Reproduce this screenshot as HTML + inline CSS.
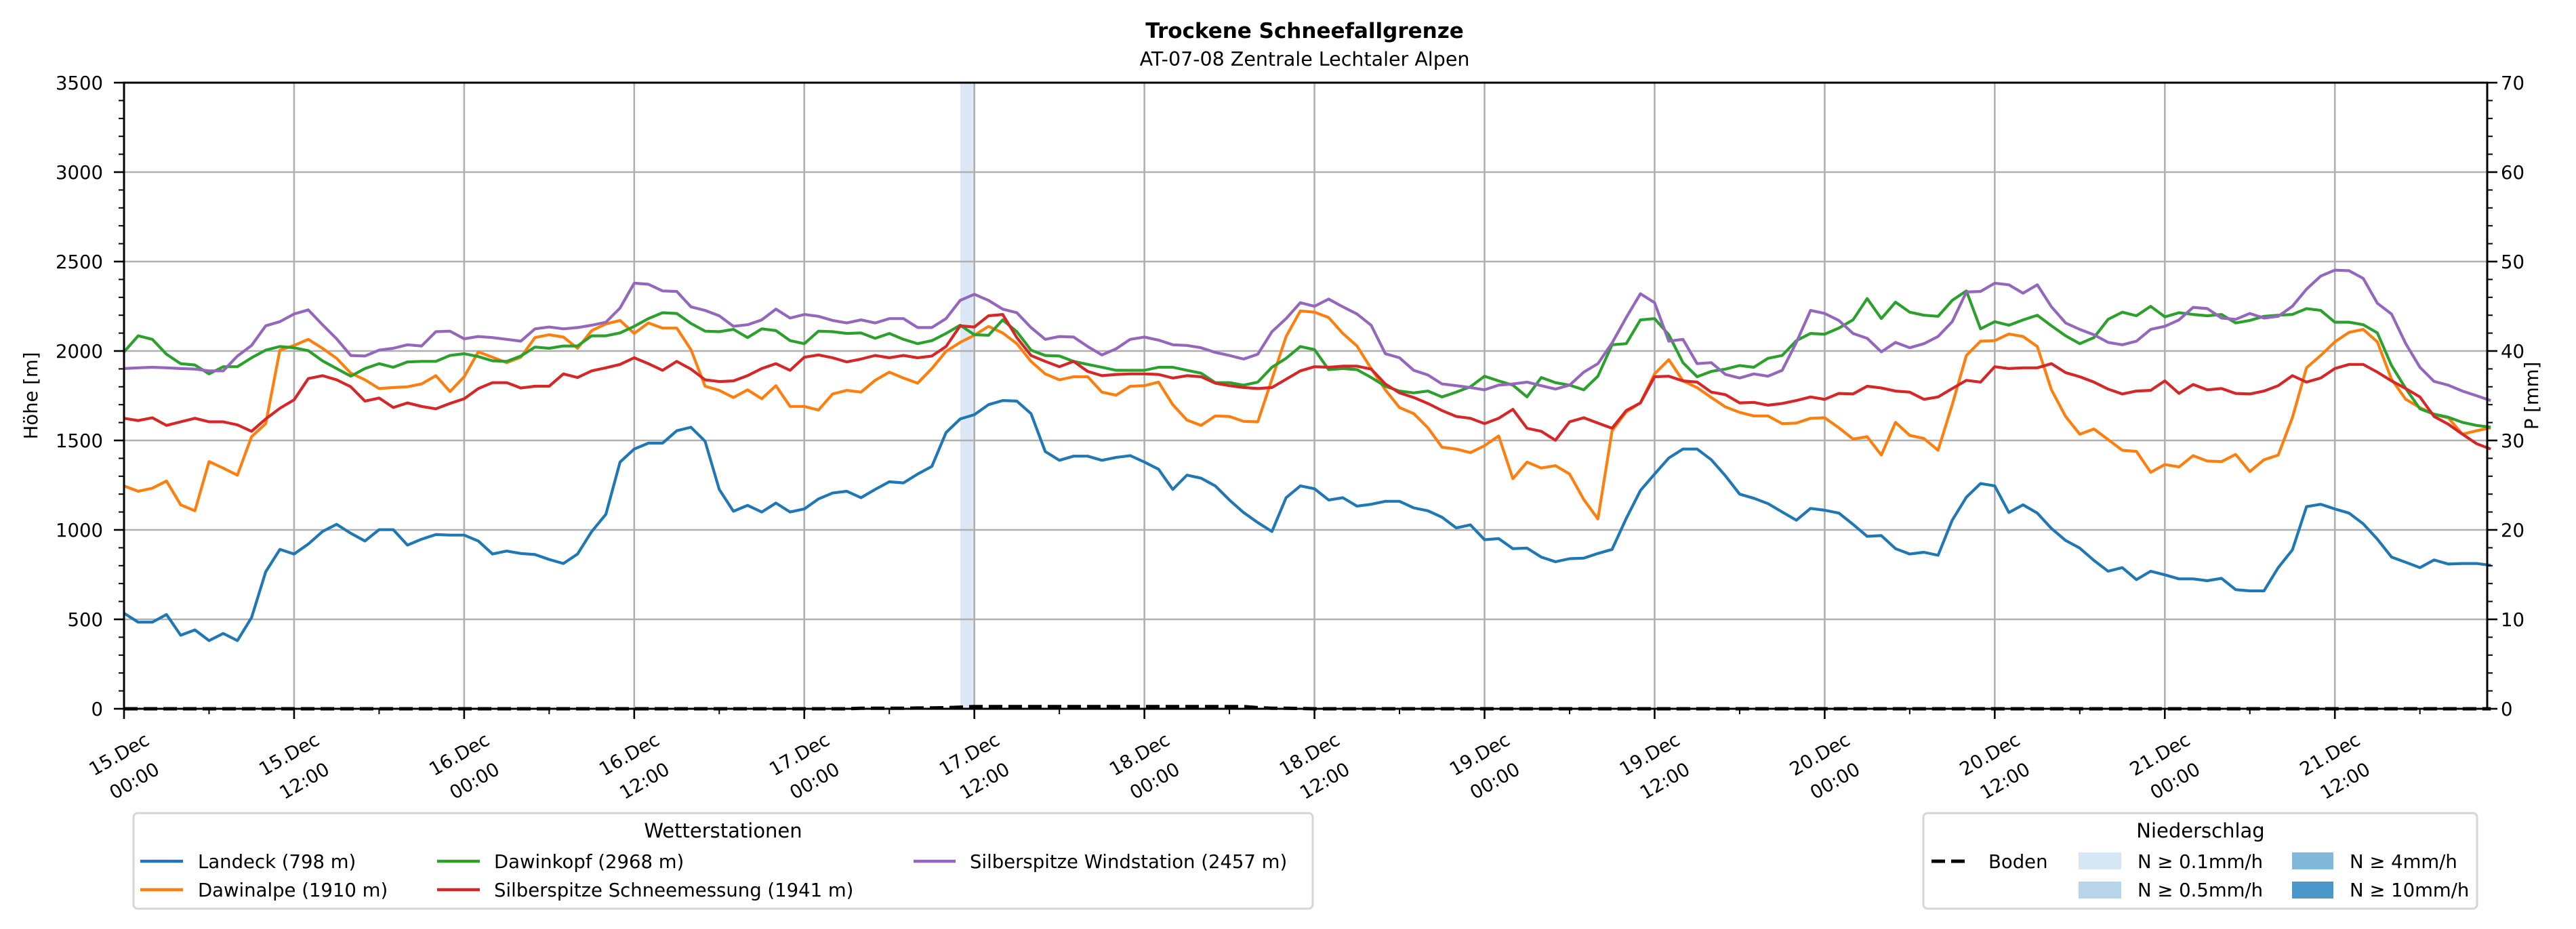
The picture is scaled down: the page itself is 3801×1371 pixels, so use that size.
<!DOCTYPE html>
<html><head><meta charset="utf-8"><style>
html,body{margin:0;padding:0;background:#fff;}
svg{display:block;font-family:"DejaVu Sans","Liberation Sans",sans-serif;}
</style></head><body>
<svg id="chart" width="3801" height="1371" viewBox="0 0 3801 1371" xmlns="http://www.w3.org/2000/svg">
<rect x="0" y="0" width="3801" height="1371" fill="#fff"/>
<text x="1925" y="56" text-anchor="middle" font-size="31" font-weight="bold">Trockene Schneefallgrenze</text>
<text x="1925" y="97" text-anchor="middle" font-size="28.5">AT-07-08 Zentrale Lechtaler Alpen</text>
<g id="plot"></g>
<text transform="translate(55,584) rotate(-90)" text-anchor="middle" font-size="27.5">Höhe [m]</text>
<text transform="translate(3745,584) rotate(-90)" text-anchor="middle" font-size="27.5">P [mm]</text>

<g font-size="27.5">
<rect x="197" y="1200" width="1740" height="141" rx="6" fill="#fff" stroke="#d6d6d6" stroke-width="3"/>
<text x="1067" y="1236" text-anchor="middle" font-size="29">Wetterstationen</text>
<line x1="207" y1="1271" x2="270" y2="1271" stroke="#1f77b4" stroke-width="4.5"/>
<text x="292" y="1281">Landeck (798 m)</text>
<line x1="207" y1="1313" x2="270" y2="1313" stroke="#ff7f0e" stroke-width="4.5"/>
<text x="292" y="1323">Dawinalpe (1910 m)</text>
<line x1="645" y1="1271" x2="708" y2="1271" stroke="#2ca02c" stroke-width="4.5"/>
<text x="729" y="1281">Dawinkopf (2968 m)</text>
<line x1="645" y1="1313" x2="708" y2="1313" stroke="#d62728" stroke-width="4.5"/>
<text x="729" y="1323">Silberspitze Schneemessung (1941 m)</text>
<line x1="1348" y1="1271" x2="1410" y2="1271" stroke="#9467bd" stroke-width="4.5"/>
<text x="1431" y="1281">Silberspitze Windstation (2457 m)</text>
</g>

<g font-size="27.5">
<rect x="2838" y="1200" width="817" height="141" rx="6" fill="#fff" stroke="#d6d6d6" stroke-width="3"/>
<text x="3247" y="1236" text-anchor="middle" font-size="29">Niederschlag</text>
<line x1="2850" y1="1271" x2="2908" y2="1271" stroke="#000" stroke-width="5" stroke-dasharray="20,9"/>
<text x="2934" y="1281">Boden</text>
<rect x="3067" y="1258" width="63" height="25" fill="#d6e6f4"/>
<text x="3154" y="1281">N ≥ 0.1mm/h</text>
<rect x="3067" y="1301" width="63" height="25" fill="#b7d4ea"/>
<text x="3154" y="1323">N ≥ 0.5mm/h</text>
<rect x="3382" y="1258" width="61" height="25" fill="#81b7d9"/>
<text x="3467" y="1281">N ≥ 4mm/h</text>
<rect x="3382" y="1301" width="61" height="25" fill="#4a98c9"/>
<text x="3467" y="1323">N ≥ 10mm/h</text>
</g>
</svg>
<script>
const landeck=[534,484,484,527,411,441,381,421,381,510,766,891,865,921,991,1031,981,938,1001,1001,915,948,974,971,971,938,865,882,868,862,835,812,865,991,1087,1379,1452,1485,1485,1554,1574,1495,1226,1104,1137,1100,1150,1100,1117,1173,1206,1216,1180,1226,1269,1263,1312,1355,1544,1620,1644,1700,1723,1720,1650,1438,1389,1412,1412,1389,1405,1415,1379,1339,1226,1306,1289,1246,1167,1097,1041,991,1180,1246,1230,1167,1180,1133,1143,1160,1160,1123,1107,1071,1011,1028,945,951,895,898,848,822,839,842,868,891,1064,1220,1312,1402,1452,1452,1392,1302,1200,1177,1147,1100,1054,1120,1110,1094,1031,964,968,895,865,875,858,1054,1183,1259,1246,1097,1140,1094,1008,941,898,829,769,789,722,769,749,726,726,716,729,666,659,659,789,888,1130,1143,1117,1094,1034,948,848,819,789,832,809,812,812,802];
const dawinalpe=[1246,1216,1233,1273,1140,1107,1382,1345,1306,1521,1594,2005,2031,2065,2015,1959,1876,1839,1790,1796,1800,1816,1862,1773,1856,1995,1965,1935,1965,2075,2091,2078,2015,2114,2151,2171,2098,2157,2128,2128,2008,1803,1780,1740,1783,1733,1806,1690,1690,1670,1760,1780,1770,1836,1882,1849,1820,1902,1998,2048,2088,2138,2101,2041,1942,1872,1839,1856,1856,1770,1753,1803,1806,1826,1700,1614,1584,1637,1634,1607,1604,1842,2081,2224,2217,2187,2098,2028,1902,1783,1684,1650,1571,1462,1452,1432,1471,1525,1286,1379,1346,1359,1312,1170,1061,1554,1660,1710,1872,1952,1833,1795,1740,1687,1657,1637,1637,1594,1597,1624,1627,1571,1508,1521,1418,1601,1528,1511,1445,1700,1975,2055,2058,2095,2081,2025,1783,1634,1535,1564,1505,1445,1439,1322,1365,1352,1415,1385,1382,1422,1326,1392,1418,1627,1906,1975,2051,2104,2121,2051,1842,1730,1684,1644,1627,1535,1554,1571];
const dawinkopf=[1995,2085,2065,1982,1929,1922,1872,1912,1912,1962,2005,2025,2018,2002,1945,1902,1859,1902,1929,1909,1939,1942,1942,1975,1985,1969,1945,1942,1972,2022,2015,2028,2028,2085,2085,2101,2138,2181,2214,2210,2154,2111,2108,2121,2075,2124,2114,2058,2041,2111,2108,2098,2101,2071,2098,2065,2041,2058,2098,2144,2091,2088,2174,2108,2005,1975,1972,1942,1925,1909,1892,1892,1892,1909,1909,1892,1876,1823,1823,1809,1826,1909,1959,2025,2008,1896,1902,1896,1852,1803,1776,1766,1776,1743,1770,1800,1859,1833,1809,1743,1852,1823,1809,1783,1859,2035,2041,2174,2181,2091,1935,1856,1886,1899,1919,1909,1959,1975,2058,2098,2094,2128,2174,2293,2181,2273,2217,2200,2194,2283,2336,2124,2164,2144,2174,2200,2141,2085,2041,2075,2177,2217,2197,2250,2191,2214,2204,2197,2204,2157,2171,2194,2200,2204,2237,2227,2161,2161,2147,2101,1919,1790,1677,1647,1630,1601,1584,1574];
const schneemessung=[1624,1611,1627,1584,1604,1624,1604,1604,1587,1551,1620,1680,1727,1846,1862,1839,1800,1720,1737,1684,1710,1690,1677,1707,1733,1790,1823,1823,1793,1803,1803,1872,1852,1889,1906,1925,1962,1929,1892,1942,1899,1839,1829,1833,1862,1902,1929,1892,1965,1978,1962,1939,1955,1975,1962,1975,1962,1972,2025,2141,2134,2197,2204,2075,1975,1942,1912,1942,1886,1862,1869,1872,1872,1869,1849,1862,1856,1820,1806,1796,1790,1796,1842,1889,1912,1909,1915,1915,1899,1816,1766,1740,1707,1667,1634,1624,1594,1624,1674,1568,1551,1501,1604,1627,1597,1568,1667,1710,1856,1859,1833,1826,1770,1756,1710,1713,1697,1707,1723,1743,1730,1763,1760,1803,1793,1776,1770,1730,1743,1790,1836,1826,1912,1902,1906,1906,1929,1879,1856,1826,1787,1760,1776,1780,1833,1763,1813,1783,1790,1763,1760,1776,1806,1862,1826,1849,1902,1925,1925,1882,1833,1790,1743,1634,1591,1535,1482,1452];
const windstation=[1902,1906,1909,1906,1902,1899,1889,1889,1972,2031,2141,2164,2207,2230,2147,2068,1975,1972,2005,2015,2035,2028,2108,2111,2068,2081,2075,2065,2055,2124,2134,2124,2131,2144,2161,2240,2379,2373,2336,2333,2247,2227,2197,2138,2147,2174,2234,2184,2204,2194,2171,2157,2174,2157,2181,2181,2131,2131,2181,2283,2317,2283,2234,2214,2131,2065,2081,2078,2025,1978,2012,2065,2078,2061,2035,2031,2018,1992,1975,1955,1982,2108,2181,2270,2250,2290,2247,2207,2144,1985,1962,1892,1866,1816,1806,1796,1783,1809,1816,1826,1806,1787,1809,1882,1929,2045,2187,2320,2270,2055,2065,1929,1935,1869,1849,1872,1859,1892,2048,2227,2210,2171,2098,2071,1995,2048,2018,2041,2081,2164,2330,2333,2379,2370,2323,2370,2247,2157,2121,2091,2048,2035,2055,2121,2138,2174,2244,2237,2184,2177,2210,2184,2194,2250,2346,2419,2452,2449,2406,2267,2207,2041,1909,1830,1809,1776,1750,1723];
const bodenStart=52, bodenValues=[0.05,0.05,0.05,0.05,0.08,0.1,0.12,0.18,0.25,0.25,0.25,0.25,0.25,0.25,0.25,0.25,0.25,0.25,0.25,0.25,0.25,0.25,0.25,0.25,0.25,0.25,0.25,0.25,0.12,0.06,0.05,0.03];
const precipStart=[59];
const precipEnd=[60];
const precipClass=[0];
const yTicks=[0,500,1000,1500,2000,2500,3000,3500];
const y2Ticks=[0,10,20,30,40,50,60,70];
const xTickDays=["15.Dec","15.Dec","16.Dec","16.Dec","17.Dec","17.Dec","18.Dec","18.Dec","19.Dec","19.Dec","20.Dec","20.Dec","21.Dec","21.Dec"];
const xTickTimes=["00:00","12:00","00:00","12:00","00:00","12:00","00:00","12:00","00:00","12:00","00:00","12:00","00:00","12:00"];

const L=183,R=3670,T=122,B=1046, XMAX=166.75;
const NS='http://www.w3.org/2000/svg';
const x=h=>L+h*(R-L)/XMAX;
const y=v=>B-v*(B-T)/3500;
const y2=v=>B-v*(B-T)/70;
const plot=document.getElementById('plot');
function mk(tag,attrs,parent){const e=document.createElementNS(NS,tag);for(const k in attrs)e.setAttribute(k,attrs[k]);(parent||plot).appendChild(e);return e;}

// precipitation shading
const pColors=['#dce8f5','#b7d4ea','#81b7d9','#4a98c9'];
precipStart.forEach((s,i)=>{
  const r=mk('rect',{x:x(s),y:T,width:x(precipEnd[i])-x(s),height:B-T,fill:pColors[precipClass[i]]});
  
  
});
// grid
for(let i=0;i<14;i++){
  const g=mk('line',{x1:x(i*12),x2:x(i*12),y1:T,y2:B,stroke:'#b0b0b0','stroke-width':2.6});
  
  
}
yTicks.forEach(v=>{
  const g=mk('line',{x1:L,x2:R,y1:y(v),y2:y(v),stroke:'#b0b0b0','stroke-width':2.6});
  
  
});
// series
const series=[[landeck,'#1f77b4','series-landeck'],[dawinalpe,'#ff7f0e','series-dawinalpe'],[dawinkopf,'#2ca02c','series-dawinkopf'],[schneemessung,'#d62728','series-schneemessung'],[windstation,'#9467bd','series-windstation']];
series.forEach(([d,c,n])=>{
  const p=mk('polyline',{points:d.map((v,i)=>x(i).toFixed(1)+','+y(v).toFixed(1)).join(' '),fill:'none',stroke:c,'stroke-width':4.2,'stroke-linejoin':'round'});
  
  
});
// Boden dashed line
const bodenPts=[];
for(let h=0;h<landeck.length;h++){const k=h-bodenStart;const v=(k>=0&&k<bodenValues.length)?bodenValues[k]:0;bodenPts.push(x(h).toFixed(1)+','+y2(v).toFixed(1));}
const bl=mk('polyline',{points:bodenPts.join(' '),fill:'none',stroke:'#000','stroke-width':5,'stroke-dasharray':'20,9'});


// spines
const sp=mk('rect',{x:L,y:T,width:R-L,height:B-T,fill:'none',stroke:'#000','stroke-width':3});


// y ticks left
yTicks.forEach(v=>{
  const t=mk('line',{x1:L-15,x2:L,y1:y(v),y2:y(v),stroke:'#000','stroke-width':2.6});
  
  
  const lb=mk('text',{x:L-31,y:y(v)+10,'text-anchor':'end','font-size':27.5});
  lb.textContent=v;
  
  
});
for(let v=0;v<=3500;v+=100){if(v%500===0)continue;
  const t=mk('line',{x1:L-8,x2:L,y1:y(v),y2:y(v),stroke:'#000','stroke-width':2});
  
  
}
// right ticks
y2Ticks.forEach(v=>{
  const t=mk('line',{x1:R,x2:R+15,y1:y2(v),y2:y2(v),stroke:'#000','stroke-width':2.6});
  
  
  const lb=mk('text',{x:R+20,y:y2(v)+10,'text-anchor':'start','font-size':27.5});
  lb.textContent=v;
  
  
});
for(let v=0;v<=70;v+=2){if(v%10===0)continue;
  const t=mk('line',{x1:R,x2:R+8,y1:y2(v),y2:y2(v),stroke:'#000','stroke-width':2});
  
  
}
// x ticks
xTickDays.forEach((d,i)=>{
  const xx=x(i*12);
  const t=mk('line',{x1:xx,x2:xx,y1:B,y2:B+15,stroke:'#000','stroke-width':2.6});
  
  
  const m=mk('line',{x1:x(i*12+6),x2:x(i*12+6),y1:B,y2:B+8,stroke:'#000','stroke-width':2});
  
  
  const g=mk('g',{transform:`translate(${xx},1060) rotate(-30)`,'font-size':27.5,'text-anchor':'middle'});
  
  
  const a=mk('text',{x:-33,y:52},g);a.textContent=d;
  const b=mk('text',{x:-33,y:97},g);b.textContent=xTickTimes[i];
});
</script>
</body></html>
